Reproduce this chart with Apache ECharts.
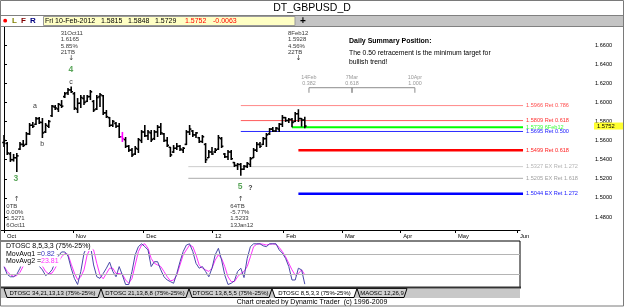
<!DOCTYPE html>
<html>
<head>
<meta charset="utf-8">
<title>DT_GBPUSD_D</title>
<script src="https://cdn.jsdelivr.net/npm/echarts@6/dist/echarts.min.js"></script>
<style>
  html, body { margin: 0; padding: 0; background: #fff; }
  #chart { width: 625px; height: 307px; }
</style>
</head>
<body>
<div id="chart"></div>
<script>
var FONT = '"Liberation Sans", Arial, sans-serif';

// daily bars 3 Oct 2011 .. 10 Feb 2012, [open, high, low, close]
var bars = [
  [1.5580, 1.5658, 1.5533, 1.5600], [1.5570, 1.5585, 1.5450, 1.5470], [1.5460, 1.5480, 1.5376, 1.5400],
  [1.5400, 1.5460, 1.5380, 1.5420], [1.5420, 1.5470, 1.5271, 1.5440], [1.5510, 1.5585, 1.5501, 1.5560],
  [1.5560, 1.5606, 1.5533, 1.5550], [1.5560, 1.5690, 1.5553, 1.5670], [1.5670, 1.5784, 1.5658, 1.5760],
  [1.5760, 1.5794, 1.5731, 1.5750], [1.5770, 1.5847, 1.5763, 1.5830], [1.5830, 1.5847, 1.5773, 1.5790],
  [1.5790, 1.5836, 1.5627, 1.5680], [1.5690, 1.5784, 1.5679, 1.5760], [1.5750, 1.5815, 1.5731, 1.5800],
  [1.5860, 1.5972, 1.5847, 1.5960], [1.5950, 1.5972, 1.5920, 1.5940], [1.5930, 1.5993, 1.5899, 1.5980],
  [1.5970, 1.6024, 1.5941, 1.5960], [1.6060, 1.6108, 1.6045, 1.6090], [1.6100, 1.6150, 1.6077, 1.6130],
  [1.6130, 1.6165, 1.6098, 1.6110], [1.6090, 1.6108, 1.5920, 1.5940], [1.5930, 1.6045, 1.5888, 1.5990],
  [1.5990, 1.6077, 1.5941, 1.6050], [1.6040, 1.6077, 1.5972, 1.6000], [1.6010, 1.6077, 1.6003, 1.6060],
  [1.6060, 1.6129, 1.6024, 1.6110], [1.6010, 1.6024, 1.5899, 1.5920], [1.5930, 1.6077, 1.5920, 1.6050],
  [1.6060, 1.6098, 1.5951, 1.6080], [1.6070, 1.6077, 1.5867, 1.5890], [1.5890, 1.5920, 1.5836, 1.5850],
  [1.5840, 1.5847, 1.5742, 1.5760], [1.5760, 1.5815, 1.5742, 1.5800], [1.5780, 1.5794, 1.5731, 1.5750],
  [1.5750, 1.5784, 1.5627, 1.5640], [1.5640, 1.5690, 1.5585, 1.5620], [1.5610, 1.5637, 1.5522, 1.5540],
  [1.5540, 1.5553, 1.5480, 1.5500], [1.5500, 1.5522, 1.5428, 1.5450], [1.5460, 1.5543, 1.5449, 1.5520],
  [1.5510, 1.5627, 1.5470, 1.5610], [1.5600, 1.5710, 1.5574, 1.5690], [1.5690, 1.5763, 1.5637, 1.5650],
  [1.5650, 1.5710, 1.5606, 1.5690], [1.5680, 1.5710, 1.5585, 1.5610], [1.5620, 1.5710, 1.5606, 1.5690],
  [1.5690, 1.5763, 1.5637, 1.5740], [1.5740, 1.5784, 1.5658, 1.5680], [1.5670, 1.5679, 1.5585, 1.5600],
  [1.5600, 1.5637, 1.5533, 1.5550], [1.5530, 1.5533, 1.5428, 1.5450], [1.5480, 1.5553, 1.5470, 1.5520],
  [1.5520, 1.5574, 1.5501, 1.5540], [1.5540, 1.5553, 1.5491, 1.5510], [1.5500, 1.5533, 1.5470, 1.5520],
  [1.5560, 1.5710, 1.5553, 1.5690], [1.5690, 1.5763, 1.5658, 1.5720], [1.5700, 1.5710, 1.5637, 1.5660],
  [1.5660, 1.5690, 1.5627, 1.5680], [1.5630, 1.5637, 1.5574, 1.5590], [1.5590, 1.5658, 1.5574, 1.5640],
  [1.5560, 1.5574, 1.5365, 1.5400], [1.5420, 1.5501, 1.5417, 1.5480], [1.5480, 1.5533, 1.5449, 1.5460],
  [1.5480, 1.5522, 1.5470, 1.5500], [1.5510, 1.5658, 1.5501, 1.5630], [1.5620, 1.5637, 1.5522, 1.5540],
  [1.5460, 1.5470, 1.5417, 1.5430], [1.5430, 1.5501, 1.5397, 1.5480], [1.5480, 1.5501, 1.5397, 1.5410],
  [1.5370, 1.5376, 1.5323, 1.5340], [1.5340, 1.5365, 1.5292, 1.5350], [1.5350, 1.5365, 1.5233, 1.5300],
  [1.5300, 1.5344, 1.5292, 1.5330], [1.5330, 1.5376, 1.5313, 1.5360], [1.5350, 1.5428, 1.5323, 1.5410],
  [1.5420, 1.5522, 1.5417, 1.5500], [1.5500, 1.5585, 1.5480, 1.5560], [1.5560, 1.5585, 1.5522, 1.5540],
  [1.5560, 1.5637, 1.5553, 1.5620], [1.5620, 1.5679, 1.5533, 1.5660], [1.5670, 1.5731, 1.5658, 1.5720],
  [1.5720, 1.5742, 1.5690, 1.5700], [1.5700, 1.5742, 1.5690, 1.5730], [1.5720, 1.5784, 1.5690, 1.5770],
  [1.5770, 1.5867, 1.5742, 1.5840], [1.5840, 1.5847, 1.5794, 1.5810], [1.5810, 1.5836, 1.5784, 1.5820],
  [1.5820, 1.5836, 1.5739, 1.5790], [1.5800, 1.5899, 1.5794, 1.5880], [1.5880, 1.5928, 1.5794, 1.5830],
  [1.5830, 1.5836, 1.5745, 1.5815], [1.5815, 1.5848, 1.5729, 1.5752]
];
var lastDate = 'Fri 10-Feb-2012';
var magentaBar = 37;

// DTOSC 8,5,3,3
var oscFast = [
  44, 25, 19, 19, 25, 40, 60, 75, 80, 75, 60, 45, 36, 22, 27, 36, 55, 70, 80, 80,
  70, 40, 15, 0, 32, 77, 93, 97, 48, 19, 15, 27, 40, 55, 32, 19, 44, 23, 0, 0,
  32, 73, 93, 100, 93, 85, 44, 56, 56, 36, 19, 11, 7, 3, 27, 56, 81, 97, 100, 81,
  52, 40, 44, 32, 19, 40, 73, 89, 60, 23, 0, 3, 9, 32, 40, 17, 64, 93, 100, 100,
  100, 95, 93, 100, 100, 100, 85, 77, 64, 44, 11, 11, 40, 36, 0.82
];
var oscSlow = [
  45, 32, 24, 20, 22, 30, 45, 60, 72, 76, 70, 57, 45, 32, 26, 28, 40, 55, 68, 76,
  74, 50, 28, 12, 19, 36, 73, 89, 85, 52, 23, 14, 27, 40, 40, 27, 27, 25, 11, 3,
  15, 48, 81, 97, 100, 89, 64, 52, 48, 44, 32, 19, 9, 11, 23, 48, 73, 85, 97, 93,
  73, 48, 40, 36, 32, 40, 60, 73, 64, 44, 19, 7, 7, 19, 27, 32, 44, 68, 93, 99,
  100, 99, 97, 99, 100, 99, 91, 81, 68, 52, 36, 23, 27, 36, 23.81
];
var oscBands = [25, 75];

var priceTicks = [1.48, 1.50, 1.52, 1.54, 1.56, 1.58, 1.60, 1.62, 1.64, 1.66];
var monthTicks = [0, 21.5, 43.5, 65, 87.3, 105.6, 123.8, 140.9, 160.3];
var monthNames = ['Oct', 'Nov', 'Dec', '12', 'Feb', 'Mar', 'Apr', 'May', 'Jun'];

// retracement / extension levels
var levelPrices = [1.5966, 1.5809, 1.5739, 1.5695, 1.5499, 1.5327, 1.5205, 1.5044];
var levelNames = ['Ret 0.786', 'Ret 0.618', '6Feb12', 'Ret 0.500', 'Ret 0.618', 'EX Ret 1.272', 'EX Ret 1.618', 'EX Ret 1.272'];
var levelFrom = [74, 74, 90, 74, 92, 57.6, 57.6, 92];
var levelTo = 162.2;

// time projections
var timeBars = [95.3, 108.75, 128.4];
var timeDates = ['14Feb', '7Mar', '10Apr'];
var timeRatios = ['0.382', '0.618', '1.000'];
var timeTop = 1.6153;
var timeFoot = 1.6100;

// swing notes
var noteBars = [4, 21, 74, 92];
var noteHigh = [false, true, false, true];
var noteLines = [
  ['0TB', '0.00%', '1.5271', '6Oct11'],
  ['31Oct11', '1.6165', '5.85%', '21TB'],
  ['64TB', '-5.77%', '1.5233', '13Jan12'],
  ['8Feb12', '1.5928', '4.56%', '22TB']
];
var noteArrowHigh = 1.6464;
var noteArrowLow = 1.4990;

// wave labels
var waveTexts = ['3', '4', '5', '?', 'a', 'b', 'c'];
var waveBars = [3.7, 20.9, 73.8, 77.0, 9.7, 11.9, 20.9];
var wavePrices = [1.5198, 1.6344, 1.5119, 1.5098, 1.5962, 1.5559, 1.6213];

var tabNames = ['DTOSC 34,21,13,13 (75%-25%)', 'DTOSC 21,13,8,8 (75%-25%)', 'DTOSC 13,8,5,5 (75%-25%)', 'DTOSC 8,5,3,3 (75%-25%)', 'MAOSC 12,26,9'];
var activeTab = 3;

// ---- styling ----
var levelColors = ['#ff8888', '#ff5c5c', '#00ff00', '#2a2aff', '#ff0000', '#cccccc', '#ababab', '#0000ff'];
var levelWidths = [1, 1, 2, 1, 2.5, 1, 1, 2.5];
var levelLabelColors = ['#ff5050', '#ff3030', '#3cff3c', '#2020ff', '#ff2020', '#b4b4b4', '#a0a0a0', '#2020ff'];
var tabEdges = [4, 101, 189, 272, 357, 407];

var XMIN = -1.25;
var X0MAX = XMIN + 594 / 3.2;
var X1MAX = XMIN + 520 / 3.2;

function renderBar(params, api) {
  var i = api.value(0);
  var hi = api.coord([i, api.value(2)]);
  var lo = api.coord([i, api.value(3)]);
  var op = api.coord([i, api.value(1)]);
  var cl = api.coord([i, api.value(4)]);
  var style = { stroke: i === magentaBar ? '#ff00ff' : '#000', lineWidth: 1.6 };
  return {
    type: 'group',
    children: [
      { type: 'line', shape: { x1: hi[0], y1: hi[1], x2: lo[0], y2: lo[1] }, style: style },
      { type: 'line', shape: { x1: op[0] - 1.8, y1: op[1], x2: op[0], y2: op[1] }, style: style },
      { type: 'line', shape: { x1: cl[0], y1: cl[1], x2: cl[0] + 1.8, y2: cl[1] }, style: style }
    ]
  };
}

var levelSeries = levelPrices.map(function (p, k) {
  return {
    type: 'line', xAxisIndex: 0, yAxisIndex: 0, silent: true, symbol: 'none', z: 3,
    data: [[levelFrom[k], p], [levelTo, p]],
    lineStyle: { color: levelColors[k], width: levelWidths[k] },
    endLabel: {
      show: true, formatter: p.toFixed(4) + ' ' + levelNames[k], distance: 3,
      color: levelLabelColors[k], fontSize: 5.6, fontFamily: FONT
    }
  };
});

var bracket = [
  [timeBars[0], timeFoot], [timeBars[0], timeTop], [timeBars[1], timeTop], [timeBars[1], timeFoot],
  [timeBars[1], timeTop], [timeBars[2], timeTop], [timeBars[2], timeFoot]
];

var option = {
  animation: false,
  backgroundColor: '#fff',
  grid: [
    { left: 0, top: 27, width: 594, height: 203 },
    { left: 0, top: 229, width: 520, height: 1 },
    { left: 0, top: 241, width: 520, height: 46.5, show: true, borderColor: '#000', borderWidth: 1 }
  ],
  xAxis: [
    { type: 'value', gridIndex: 0, min: XMIN, max: X0MAX, show: false },
    {
      type: 'value', gridIndex: 1, min: XMIN, max: X1MAX,
      axisLine: { lineStyle: { color: '#000', width: 1 } },
      splitLine: { show: false },
      axisTick: { customValues: monthTicks, length: 3, lineStyle: { color: '#000' } },
      axisLabel: {
        customValues: monthTicks, align: 'left', margin: 3, padding: [0, 0, 0, 3],
        fontSize: 5.8, fontFamily: FONT, color: '#000',
        formatter: function (v) {
          var k = monthTicks.indexOf(v);
          return k < 0 ? '' : monthNames[k];
        }
      }
    },
    { type: 'value', gridIndex: 2, min: XMIN, max: X1MAX, show: false }
  ],
  yAxis: [
    {
      type: 'value', gridIndex: 0, position: 'right',
      min: 1.66 - (230 - 45) / 955.6, max: 1.66 + (45 - 27) / 955.6,
      axisLine: { show: true, lineStyle: { color: '#000' } },
      splitLine: { show: false },
      axisTick: { show: true, customValues: priceTicks, length: 3, lineStyle: { color: '#000' } },
      axisLabel: {
        customValues: priceTicks, margin: 1, fontSize: 5.6, fontFamily: FONT, color: '#000',
        formatter: function (v) { return v.toFixed(4); }
      }
    },
    { type: 'value', gridIndex: 1, show: false },
    { type: 'value', gridIndex: 2, min: -7.4, max: 106.9, show: false }
  ],
  series: [
    {
      type: 'custom', xAxisIndex: 0, yAxisIndex: 0, renderItem: renderBar, z: 5,
      encode: { x: 0, y: [1, 2, 3, 4] },
      data: bars.map(function (b, i) { return [i, b[0], b[1], b[2], b[3]]; })
    }
  ].concat(levelSeries).concat([
    {
      type: 'line', xAxisIndex: 0, yAxisIndex: 0, silent: true, symbol: 'none', z: 3,
      data: bracket, lineStyle: { color: '#8c8c8c', width: 1 }
    },
    {
      type: 'scatter', xAxisIndex: 0, yAxisIndex: 0, silent: true, symbolSize: 0, z: 6,
      data: timeBars.map(function (t, k) {
        return { value: [t, timeTop], label: { formatter: timeDates[k] + '\n' + timeRatios[k] } };
      }),
      label: { show: true, position: 'top', distance: 1, fontSize: 5.4, lineHeight: 5.8, fontFamily: FONT, color: '#808080' }
    },
    {
      type: 'scatter', xAxisIndex: 0, yAxisIndex: 0, silent: true, symbolSize: 0, z: 6,
      data: noteBars.map(function (b, k) {
        return {
          value: [b, noteHigh[k] ? noteArrowHigh : noteArrowLow],
          label: { position: noteHigh[k] ? 'top' : 'bottom', distance: noteHigh[k] ? 2.5 : 4, formatter: noteLines[k].join('\n') }
        };
      }),
      label: { show: true, align: 'left', offset: [-10.5, 0], fontSize: 6, lineHeight: 6.3, fontFamily: FONT, color: '#000' }
    },
    {
      type: 'scatter', xAxisIndex: 0, yAxisIndex: 0, silent: true, symbolSize: 0, z: 6,
      data: noteBars.map(function (b, k) {
        return { value: [b, noteHigh[k] ? noteArrowHigh : noteArrowLow], label: { formatter: noteHigh[k] ? '\u2193' : '\u2191' } };
      }),
      label: { show: true, position: 'inside', fontSize: 7, fontFamily: '"DejaVu Sans"', color: '#000' }
    },
    {
      type: 'scatter', xAxisIndex: 0, yAxisIndex: 0, silent: true, symbolSize: 0, z: 6,
      data: waveTexts.map(function (t, k) {
        var isNum = /[0-9]/.test(t);
        return {
          value: [waveBars[k], wavePrices[k]],
          label: {
            formatter: t,
            color: isNum ? '#2f8f2f' : '#000',
            fontSize: isNum ? 8.5 : 7,
            fontWeight: (isNum || t === '?') ? 'bold' : 'normal'
          }
        };
      }),
      label: { show: true, position: 'inside', fontFamily: FONT }
    },
    {
      type: 'line', xAxisIndex: 2, yAxisIndex: 2, silent: true, symbol: 'none', z: 3,
      data: oscSlow.map(function (v, i) { return [i, v]; }),
      lineStyle: { color: '#ff30ff', width: 1 }
    },
    {
      type: 'line', xAxisIndex: 2, yAxisIndex: 2, silent: true, symbol: 'none', z: 4,
      data: oscFast.map(function (v, i) { return [i, v]; }),
      lineStyle: { color: '#4848a8', width: 1 },
      markLine: {
        silent: true, symbol: 'none', label: { show: false },
        lineStyle: { color: '#b4b4b4', type: 'solid', width: 1 },
        data: oscBands.map(function (b) { return { yAxis: b }; })
      }
    }
  ])
};

var chart = echarts.init(document.getElementById('chart'), null, { renderer: 'canvas' });
chart.setOption(option);

function txt(x, y, s, o) {
  o = o || {};
  return {
    type: 'text', x: x, y: y, z: o.z || 50, silent: true,
    style: {
      text: s, fill: o.color || '#000', fontSize: o.size || 7, fontFamily: o.family || FONT,
      fontWeight: o.weight || 'normal', align: o.align || 'left', verticalAlign: 'middle',
      backgroundColor: o.bg, padding: o.pad, rich: o.rich
    }
  };
}
function rect(x, y, w, h, fill, stroke, z) {
  return { type: 'rect', z: z || 40, silent: true, shape: { x: x, y: y, width: w, height: h }, style: { fill: fill || 'none', stroke: stroke || 'none', lineWidth: 1 } };
}
function seg(x1, y1, x2, y2, color, width, z) {
  return { type: 'line', z: z || 45, silent: true, shape: { x1: x1, y1: y1, x2: x2, y2: y2 }, style: { stroke: color, lineWidth: width || 1 } };
}

var last = bars[bars.length - 1];
var change = last[3] - bars[bars.length - 2][3];
var lastY = chart.convertToPixel({ yAxisIndex: 0 }, last[3]);

var g = [
  rect(0.5, 0.5, 623, 305.5, 'none', '#7a7a7a', 100),
  txt(312, 8, 'DT_GBPUSD_D', { size: 10.5, align: 'center' }),
  seg(0, 15.5, 624, 15.5, '#808080'),
  rect(295, 16, 328, 10, '#c4c4c4'),
  rect(43.5, 16.5, 251.5, 9, '#ffffc4', '#9a9a9a'),
  seg(0, 26.5, 624, 26.5, '#808080'),
  txt(3, 21, '\u25CF', { color: '#ff0000', size: 5, family: '"DejaVu Sans"' }),
  txt(12, 21, 'L', { color: '#808000', weight: 'bold', size: 8 }),
  txt(21, 21, 'F', { color: '#800000', weight: 'bold', size: 8 }),
  txt(30, 21, 'R', { color: '#000080', weight: 'bold', size: 8 }),
  txt(45, 21, lastDate, {}),
  txt(101, 21, last[0].toFixed(4), {}),
  txt(128, 21, last[1].toFixed(4), {}),
  txt(155, 21, last[2].toFixed(4), {}),
  txt(185, 21, last[3].toFixed(4), { color: '#ff0000' }),
  txt(213, 21, change.toFixed(4), { color: '#ff0000' }),
  txt(303, 21, '+', { size: 10, weight: 'bold', align: 'center' }),
  txt(349, 41, 'Daily Summary Position:', { weight: 'bold', size: 7 }),
  txt(349, 53, 'The 0.50 retracement is the minimum target for', { size: 6.8 }),
  txt(349, 62, 'bullish trend!', { size: 6.8 }),
  txt(1, 246.5, 'DTOSC 8,5,3,3 (75%-25%)', { bg: '#fff', pad: [1, 2, 1, 5], size: 7 }),
  txt(1, 254, '{a|MovAvg1 =}{b|' + oscFast[oscFast.length - 1].toFixed(2) + '}', {
    bg: '#fff', pad: [1, 2, 1, 5],
    rich: { a: { fill: '#000', fontSize: 7, fontFamily: FONT }, b: { fill: '#3838c0', fontSize: 7, fontFamily: FONT } }
  }),
  txt(1, 261.5, '{a|MovAvg2 =}{b|' + oscSlow[oscSlow.length - 1].toFixed(2) + '}', {
    bg: '#fff', pad: [1, 2, 2, 5],
    rich: { a: { fill: '#000', fontSize: 7, fontFamily: FONT }, b: { fill: '#ff30ff', fontSize: 7, fontFamily: FONT } }
  }),
  seg(0, 287.5, 521, 287.5, '#333', 2, 46),
  rect(1, 288.5, 519, 9.5, '#c8c8c8', null, 39),
  txt(312, 302, 'Chart created by Dynamic Trader  (c) 1996-2009', { size: 7, align: 'center' }),
  rect(594, lastY - 3.5, 30, 7, '#ffff30', null, 60),
  txt(597, lastY, last[3].toFixed(4), { size: 5.8, z: 61 })
];

tabNames.forEach(function (name, k) {
  var x0 = tabEdges[k], x1 = tabEdges[k + 1];
  g.push({
    type: 'polygon', z: 41, silent: true,
    shape: { points: [[x0, 288.5], [x1, 288.5], [x1 - 3, 297.5], [x0 + 3, 297.5]] },
    style: { fill: k === activeTab ? '#fff' : '#d0d0d0', stroke: '#000', lineWidth: 1 }
  });
  g.push(txt((x0 + x1) / 2, 293, name, { size: 6, align: 'center', z: 42 }));
});

chart.setOption({ graphic: g });
</script>
</body>
</html>
